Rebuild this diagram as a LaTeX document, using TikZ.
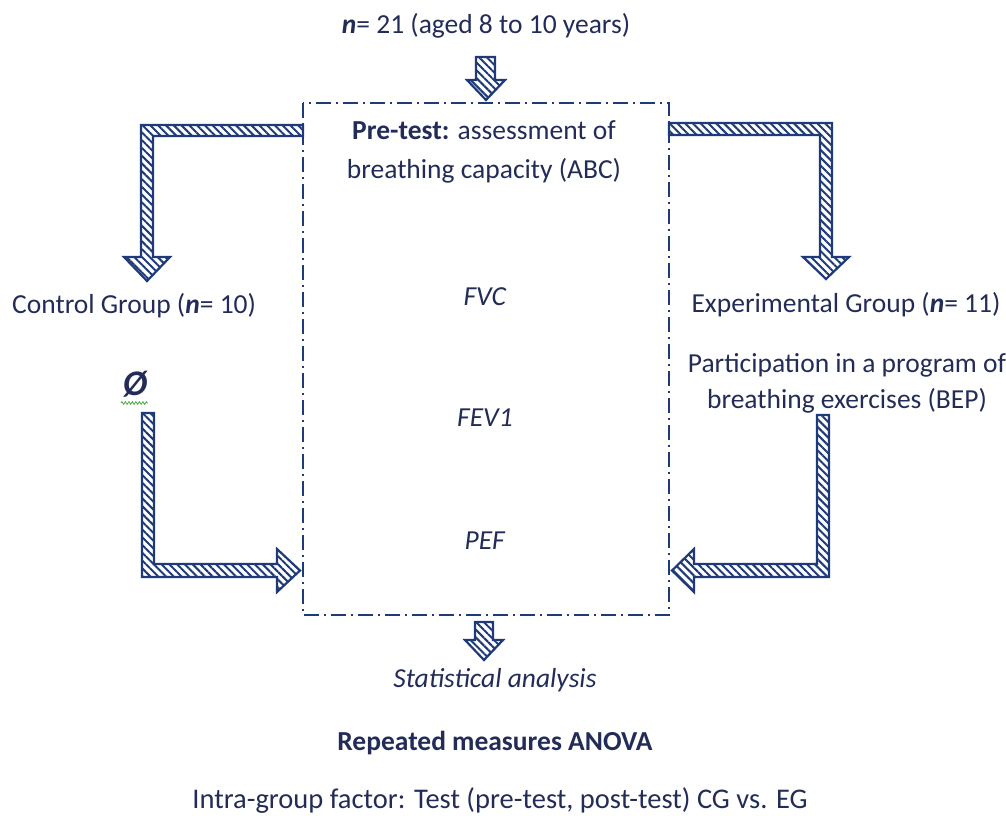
\documentclass[tikz,border=0pt]{standalone}
\usepackage{fontspec}
\setmainfont{Carlito}
\usetikzlibrary{patterns.meta,decorations.pathmorphing}
\definecolor{ink}{HTML}{232C58}
\definecolor{navy}{HTML}{1F3A78}
\definecolor{spell}{HTML}{3DAA3D}
\tikzset{
  lbl/.style={inner sep=0pt, text=ink, font=\fontsize{27.5}{39}\selectfont},
  blockarrow/.style={draw=navy, line width=2.2pt, line join=miter,
    pattern={Lines[angle=-45,distance=5.5pt,line width=2pt]}, pattern color=navy},
  frame/.style={draw=navy, line width=2pt,
    dash pattern=on 15pt off 5pt on 2pt off 5pt}
}
\begin{document}
\begin{tikzpicture}[x=1pt,y=-1pt]
\useasboundingbox (0,0) rectangle (1006,815);

% central dash-dot frame
\draw[frame] (303,103) rectangle (669,615);

% sample size on top
\node[lbl, anchor=base] (top) at (486,33) {\textbf{\textit{n}}= 21 (aged 8 to 10 years)};

% pre-test box content
\node[lbl, anchor=base] (pre1) at (484,139) {\textbf{Pre-test:} assessment of};
\node[lbl, anchor=base] (pre2) at (484,178) {breathing capacity (ABC)};
\node[lbl, anchor=base] (fvc) at (485,305) {\textit{FVC}};
\node[lbl, anchor=base] (fev) at (485,426) {\textit{FEV1}};
\node[lbl, anchor=base] (pef) at (485,549) {\textit{PEF}};

% groups
\node[lbl, anchor=base west] (cg) at (12,313) {Control Group (\textbf{\textit{n}}= 10)};
\node[lbl, anchor=base] (eg) at (846,312) {Experimental Group (\textbf{\textit{n}}= 11)};
\node[lbl, anchor=base] (bep1) at (847,372) {Participation in a program of};
\node[lbl, anchor=base] (bep2) at (847,408) {breathing exercises (BEP)};
\node[lbl, anchor=base, font=\fontsize{36}{40}\selectfont\bfseries\itshape] (none) at (135,395) {Ø};
\draw[spell, line width=0.8pt, decorate,
  decoration={zigzag, amplitude=1.3pt, segment length=3.5pt}]
  (121,403) -- (148,403);

% analysis
\node[lbl, anchor=base] (stat) at (495,687) {\textit{Statistical analysis}};
\node[lbl, anchor=base] (anova) at (495,750) {\textbf{Repeated measures ANOVA}};
\node[lbl, anchor=base, font=\fontsize{28.5}{39}\selectfont] (intra) at (500,808) {Intra-group factor: Test (pre-test, post-test) CG vs. EG};

% small striped arrows into and out of the frame
\draw[blockarrow] (476,57) -- (495,57) -- (495,80) -- (505,80) -- (486,100)
  -- (467,80) -- (476,80) -- cycle;
\draw[blockarrow] (475,622) -- (493,622) -- (493,640) -- (503,640) -- (484,660)
  -- (465,640) -- (475,640) -- cycle;

% frame to control group
\draw[blockarrow] (303,125) -- (141,125) -- (141,257) -- (124,257) -- (147,281)
  -- (170,257) -- (153,257) -- (153,136) -- (303,136) -- cycle;
% control group back to frame
\draw[blockarrow] (142,413) -- (154,413) -- (154,564) -- (277,564) -- (277,549)
  -- (300,570.5) -- (277,592) -- (277,577) -- (142,577) -- cycle;
% frame to experimental group
\draw[blockarrow] (669,123) -- (832,123) -- (832,257) -- (849,257) -- (826,279)
  -- (803,257) -- (820,257) -- (820,135) -- (669,135) -- cycle;
% experimental group back to frame
\draw[blockarrow] (817,415) -- (829,415) -- (829,577) -- (694,577) -- (694,592)
  -- (672,570.5) -- (694,549) -- (694,564) -- (817,564) -- cycle;
\end{tikzpicture}
\end{document}
